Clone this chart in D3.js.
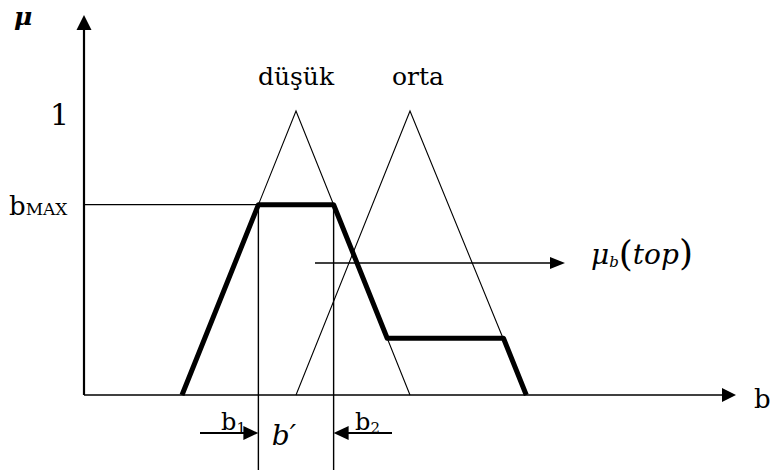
<!DOCTYPE html>
<html>
<head>
<meta charset="utf-8">
<script src="https://cdn.jsdelivr.net/npm/d3@7"></script>
<style>
  body { margin: 0; background: #fff; }
</style>
</head>
<body>
<div id="chart"></div>
<script>
// membership functions (b value, mu)
var dusuk = [[1, 0], [2, 1], [3, 0]];
var orta = [[2, 0], [3, 1], [4.02, 0]];
// clipped output set (thick line)
var output = [[1, 0], [1.67, 0.67], [2.33, 0.67], [2.8, 0.2], [3.82, 0.2], [4.02, 0]];
var bMax = 0.67;
var b1 = 1.67, b2 = 2.33;
var setLabels = [{name: "düşük", b: 2}, {name: "orta", b: 3.07}];

var W = 770, H = 470;
var serif = "'DejaVu Serif', 'Liberation Serif', serif";
var svg = d3.select("#chart").append("svg")
    .attr("width", W).attr("height", H)
    .attr("font-family", serif);

var x = d3.scaleLinear().domain([1, 4]).range([182, 524]);
var y = d3.scaleLinear().domain([0, 1]).range([395, 111]);

var x0 = 84, xEnd = 736, yTop = 15;

var line = d3.line().x(function (d) { return x(d[0]); }).y(function (d) { return y(d[1]); });

// axes
svg.append("line").attr("x1", x0).attr("x2", x0).attr("y1", y(0)).attr("y2", yTop + 12)
    .attr("stroke", "#000").attr("stroke-width", 2.2);
svg.append("path").attr("d", "M" + x0 + "," + yTop + "l-7.5,15h15z").attr("fill", "#000");
svg.append("line").attr("x1", x0).attr("x2", xEnd - 10).attr("y1", y(0)).attr("y2", y(0))
    .attr("stroke", "#000").attr("stroke-width", 1.6);
svg.append("path").attr("d", "M" + xEnd + "," + y(0) + "l-14,-7v14z").attr("fill", "#000");

// bMAX guide line
svg.append("line").attr("x1", x0).attr("x2", x(b1)).attr("y1", y(bMax)).attr("y2", y(bMax))
    .attr("stroke", "#000").attr("stroke-width", 1.3);

// triangles
[dusuk, orta].forEach(function (t) {
  svg.append("path").attr("d", line(t)).attr("fill", "none")
      .attr("stroke", "#000").attr("stroke-width", 1.1);
});

// vertical lines at b1, b2
[b1, b2].forEach(function (v) {
  svg.append("line").attr("x1", x(v)).attr("x2", x(v)).attr("y1", y(bMax)).attr("y2", H)
      .attr("stroke", "#000").attr("stroke-width", 1.4);
});

// output set
svg.append("path").attr("d", line(output)).attr("fill", "none")
    .attr("stroke", "#000").attr("stroke-width", 5).attr("stroke-linejoin", "round");

// mu_b(top) arrow
var ay = 263;
svg.append("line").attr("x1", 315).attr("x2", 552).attr("y1", ay).attr("y2", ay)
    .attr("stroke", "#000").attr("stroke-width", 1.5);
svg.append("path").attr("d", "M565," + ay + "l-15,-6v12z").attr("fill", "#000");

// b1 / b2 arrows
svg.append("line").attr("x1", 200).attr("x2", x(b1) - 10).attr("y1", 433).attr("y2", 433)
    .attr("stroke", "#000").attr("stroke-width", 1.8);
svg.append("path").attr("d", "M" + x(b1) + ",433l-15,-7v14z").attr("fill", "#000");
svg.append("line").attr("x1", x(b2) + 10).attr("x2", 392).attr("y1", 433).attr("y2", 433)
    .attr("stroke", "#000").attr("stroke-width", 1.8);
svg.append("path").attr("d", "M" + x(b2) + ",433l15,-7v14z").attr("fill", "#000");

// texts
svg.selectAll(".setlabel").data(setLabels).enter().append("text")
    .attr("x", function (d) { return x(d.b); }).attr("y", 85)
    .attr("text-anchor", "middle").attr("font-size", 25)
    .text(function (d) { return d.name; });

svg.append("text").attr("x", 14).attr("y", 25).attr("font-size", 25)
    .attr("font-style", "italic").attr("font-weight", "bold").text("μ");
svg.append("text").attr("x", 50).attr("y", 125).attr("font-size", 30).text("1");

var bm = svg.append("text").attr("x", 9).attr("y", 215).attr("font-size", 26);
bm.append("tspan").text("b");
bm.append("tspan").attr("font-size", 17).text("MAX");

svg.append("text").attr("x", 754).attr("y", 408).attr("font-size", 26).text("b");

var t1 = svg.append("text").attr("x", 221).attr("y", 430).attr("font-size", 24);
t1.append("tspan").text("b");
t1.append("tspan").attr("font-size", 15).attr("dy", 3).text("1");
var t2 = svg.append("text").attr("x", 355).attr("y", 430).attr("font-size", 24);
t2.append("tspan").text("b");
t2.append("tspan").attr("font-size", 15).attr("dy", 3).text("2");

svg.append("text").attr("x", 284).attr("y", 445).attr("text-anchor", "middle")
    .attr("font-size", 28).attr("font-style", "italic").text("b′");

var mt = svg.append("text").attr("x", 591).attr("y", 264).attr("font-size", 28).attr("font-style", "italic");
mt.append("tspan").text("μ");
mt.append("tspan").attr("font-size", 15).attr("dy", 3).text("b");
mt.append("tspan").attr("dy", -1).attr("font-style", "normal").attr("font-size", 36).text("(");
mt.append("tspan").attr("dy", -2).text("top");
mt.append("tspan").attr("dy", 1).attr("font-style", "normal").attr("font-size", 36).text(")");
</script>
</body>
</html>
